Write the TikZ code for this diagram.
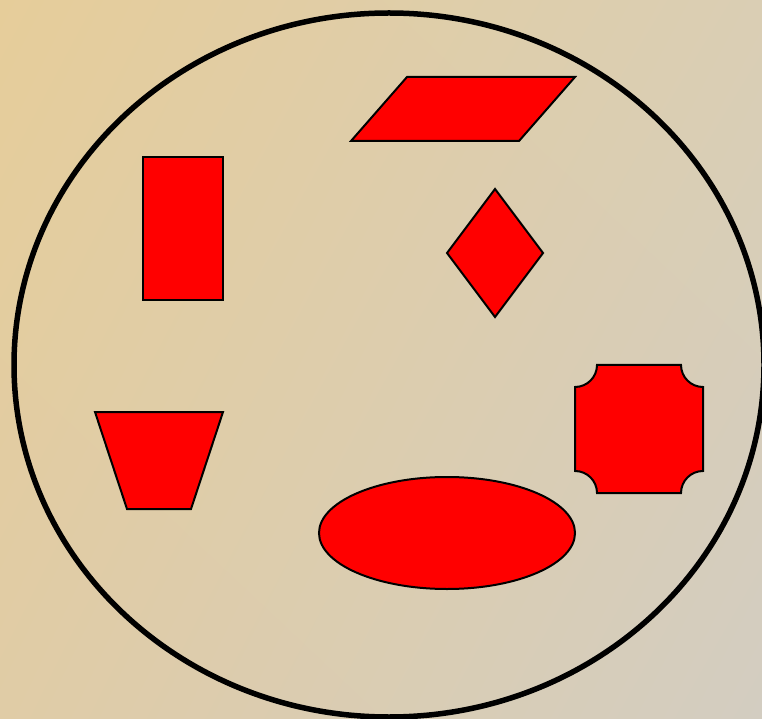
\documentclass[tikz,border=0pt]{standalone}
\usetikzlibrary{shadings}
\begin{document}
\begin{tikzpicture}[x=1pt,y=1pt,
  shapefill/.style={fill={rgb,255:red,255;green,0;blue,0},draw=black,line width=2pt,line join=miter}]
\definecolor{bgul}{RGB}{230,205,154}
\definecolor{bgur}{RGB}{218,206,180}
\definecolor{bgll}{RGB}{224,204,166}
\definecolor{bglr}{RGB}{211,205,193}
\useasboundingbox (0,0) rectangle (762,718);
\shade[upper left=bgul,upper right=bgur,lower left=bgll,lower right=bglr] (0,0) rectangle (762,718);
% big outline
\draw[line width=5.5pt] (389,353) ellipse [x radius=375, y radius=352];
% rectangle
\draw[shapefill] (143,561) rectangle (223,418);
% parallelogram
\draw[shapefill] (407,641) -- (575,641) -- (519,577) -- (351,577) -- cycle;
% diamond
\draw[shapefill] (495,529) -- (543,465) -- (495,401) -- (447,465) -- cycle;
% trapezoid
\draw[shapefill] (95,306) -- (223,306) -- (191,209) -- (127,209) -- cycle;
% ellipse
\draw[shapefill] (447,185) ellipse [x radius=128, y radius=56];
% rectangle with concave corners
\draw[shapefill] (597,353) -- (681,353) arc[start angle=180,end angle=270,radius=22]
  -- (703,247) arc[start angle=90,end angle=180,radius=22]
  -- (597,225) arc[start angle=0,end angle=90,radius=22]
  -- (575,331) arc[start angle=270,end angle=360,radius=22] -- cycle;
\end{tikzpicture}
\end{document}
